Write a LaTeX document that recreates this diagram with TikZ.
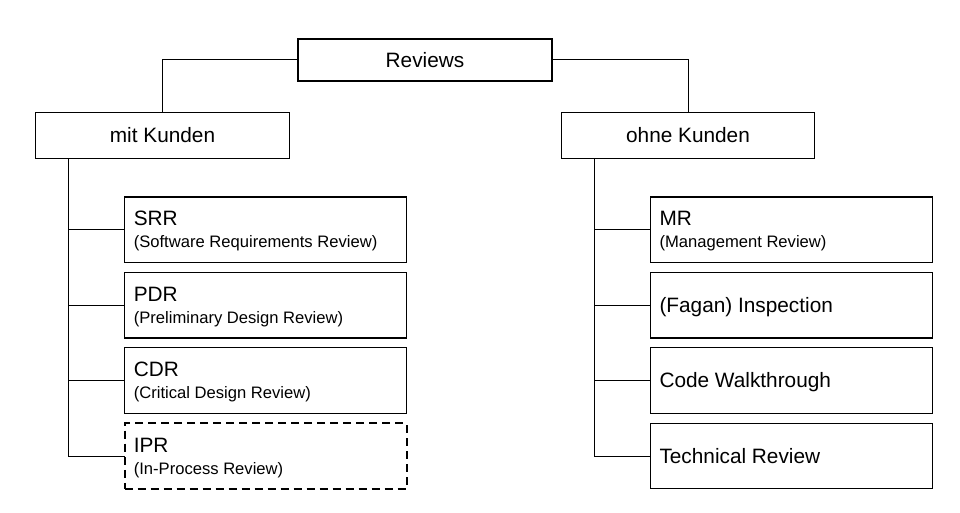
\documentclass[tikz,border=0pt]{standalone}
\usepackage{fontspec}
\setmainfont{Liberation Sans}
\usetikzlibrary{calc}
\begin{document}
\begin{tikzpicture}[x=1bp,y=-1bp,
  box/.style={draw=black,line width=1.2bp,minimum width=282bp,minimum height=65.5bp,inner sep=0pt,outer sep=0pt},
  headbox/.style={draw=black,line width=1.2bp,minimum width=253.5bp,minimum height=46.5bp,inner sep=0pt,outer sep=0pt,font=\fontsize{20.8bp}{24bp}\selectfont},
  dashbox/.style={box,line width=2bp,dash pattern=on 8bp off 5bp},
  ttl/.style={anchor=base west,inner sep=0pt,font=\fontsize{20.8bp}{24bp}\selectfont},
  sub/.style={anchor=base west,inner sep=0pt,font=\fontsize{16.6bp}{19bp}\selectfont},
  link/.style={draw=black,line width=1bp}]
\useasboundingbox (0,0) rectangle (960,513);
% top
\node[headbox,minimum width=254bp,minimum height=42bp] (rev) at (425,60) {Reviews};
\node[headbox] (mit) at (162.5,135.4) {mit Kunden};
\node[headbox] (ohne) at (688,135.4) {ohne Kunden};
\draw[link] (rev.west) -| (mit.north);
\draw[link] (rev.east) -| (ohne.north);
% left boxes
\node[box] (srr) at (265.6,229.7) {};
\node[box] (pdr) at (265.6,305.2) {};
\node[box] (cdr) at (265.6,380.5) {};
\node[dashbox] (ipr) at (265.6,456) {};
\node[ttl] (srrt) at ($(srr.north west)+(9,29)$) {SRR};
\node[sub] (srrs) at ($(srr.north west)+(9,51)$) {(Software Requirements Review)};
\node[ttl] (pdrt) at ($(pdr.north west)+(9,29)$) {PDR};
\node[sub] (pdrs) at ($(pdr.north west)+(9,51)$) {(Preliminary Design Review)};
\node[ttl] (cdrt) at ($(cdr.north west)+(9,29)$) {CDR};
\node[sub] (cdrs) at ($(cdr.north west)+(9,51)$) {(Critical Design Review)};
\node[ttl] (iprt) at ($(ipr.north west)+(9,29)$) {IPR};
\node[sub] (iprs) at ($(ipr.north west)+(9,51)$) {(In-Process Review)};
\coordinate (lx) at (68.3,0);
\draw[link] (mit.south -| lx) |- (ipr.west);
\draw[link] (lx |- srr.west) -- (srr.west);
\draw[link] (lx |- pdr.west) -- (pdr.west);
\draw[link] (lx |- cdr.west) -- (cdr.west);
% right boxes
\node[box] (mr) at (791.3,229.7) {};
\node[box] (fag) at (791.3,305.2) {};
\node[box] (cw) at (791.3,380.5) {};
\node[box] (tr) at (791.3,456) {};
\node[ttl] (mrt) at ($(mr.north west)+(9,29)$) {MR};
\node[sub] (mrs) at ($(mr.north west)+(9,51)$) {(Management Review)};
\node[ttl] (fagt) at ($(fag.north west)+(9,40)$) {(Fagan) Inspection};
\node[ttl] (cwt) at ($(cw.north west)+(9,40)$) {Code Walkthrough};
\node[ttl] (trt) at ($(tr.north west)+(9,40)$) {Technical Review};
\coordinate (rx) at (594,0);
\draw[link] (ohne.south -| rx) |- (tr.west);
\draw[link] (rx |- mr.west) -- (mr.west);
\draw[link] (rx |- fag.west) -- (fag.west);
\draw[link] (rx |- cw.west) -- (cw.west);
\end{tikzpicture}
\end{document}
